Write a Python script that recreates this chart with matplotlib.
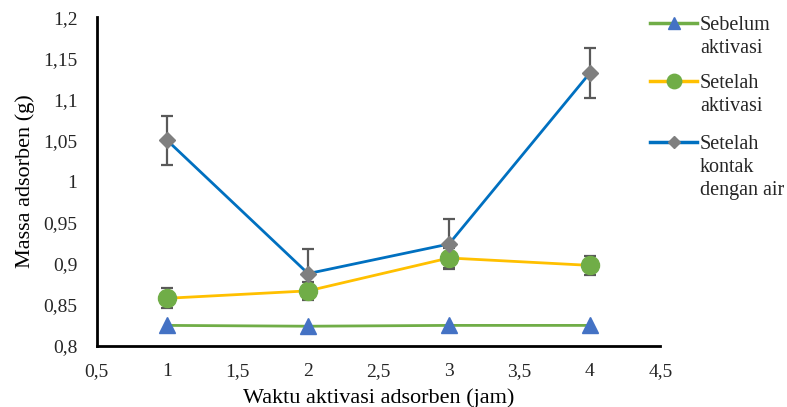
import matplotlib.pyplot as plt
from matplotlib.lines import Line2D

plt.rcParams['font.family'] = ['Liberation Serif', 'DejaVu Serif']

waktu = [1, 2, 3, 4]
sebelum = [0.825, 0.824, 0.825, 0.825]
setelah = [0.858, 0.867, 0.907, 0.898]
setelah_err = [0.012, 0.011, 0.012, 0.012]
kontak = [1.050, 0.888, 0.924, 1.132]
kontak_err = [0.030, 0.030, 0.030, 0.030]

labels = ['Sebelum\naktivasi', 'Setelah\naktivasi', 'Setelah\nkontak\ndengan air']
line_colors = ['#70AD47', '#FFC000', '#0070C0']
marker_colors = ['#4472C4', '#70AD47', '#7F7F7F']
markers = ['^', 'o', 'D']
msizes = [11, 13, 8]

fig = plt.figure(figsize=(7.87, 4.07), dpi=100)
ax = fig.add_axes([0.123, 0.150, 0.716, 0.808])

ax.plot(waktu, sebelum, color=line_colors[0], lw=2, marker=markers[0],
        ms=msizes[0], mfc=marker_colors[0], mec=marker_colors[0], zorder=3)
ax.errorbar(waktu, setelah, yerr=setelah_err, fmt='none', ecolor='#595959',
            elinewidth=1.6, capsize=4, capthick=1.6, zorder=2)
ax.plot(waktu, setelah, color=line_colors[1], lw=2, marker=markers[1],
        ms=msizes[1], mfc=marker_colors[1], mec=marker_colors[1], zorder=3)
ax.errorbar(waktu, kontak, yerr=kontak_err, fmt='none', ecolor='#595959',
            elinewidth=1.6, capsize=4, capthick=1.6, zorder=2)
ax.plot(waktu, kontak, color=line_colors[2], lw=2, marker=markers[2],
        ms=msizes[2], mfc=marker_colors[2], mec=marker_colors[2], zorder=4)

ax.set_xlim(0.5, 4.5)
ax.set_ylim(0.8, 1.2)
xt = [0.5, 1, 1.5, 2, 2.5, 3, 3.5, 4, 4.5]
yt = [0.8, 0.85, 0.9, 0.95, 1, 1.05, 1.1, 1.15, 1.2]
ax.set_xticks(xt)
ax.set_xticklabels([('%g' % v).replace('.', ',') for v in xt])
ax.set_yticks(yt)
ax.set_yticklabels([('%g' % v).replace('.', ',') for v in yt])
ax.tick_params(axis='x', length=0, pad=12, labelsize=14, colors='#262626')
ax.tick_params(axis='y', length=0, pad=14, labelsize=14, colors='#262626')
for s in ['top', 'right']:
    ax.spines[s].set_visible(False)
for s in ['left', 'bottom']:
    ax.spines[s].set_linewidth(2)
    ax.spines[s].set_color('black')

ax.set_xlabel('Waktu aktivasi adsorben (jam)', fontsize=16, labelpad=6)
ax.set_ylabel('Massa adsorben (g)', fontsize=16, labelpad=6)

# legend drawn by hand so the handle sits on the first text line
W, H = 787, 407
ys = [23, 81, 142]
for i in range(3):
    y = 1 - ys[i] / H
    fig.add_artist(Line2D([650 / W, 697 / W], [y, y], color=line_colors[i], lw=2.5))
    fig.add_artist(Line2D([673.5 / W], [y], marker=markers[i], ms=msizes[i] * 0.8,
                          color=marker_colors[i], lw=0))
    fig.text(700 / W, 1 - (ys[i] - 7) / H, labels[i], fontsize=14.5,
             va='top', ha='left', linespacing=1.3, color='#262626')

fig.savefig('out.png', dpi=100)
